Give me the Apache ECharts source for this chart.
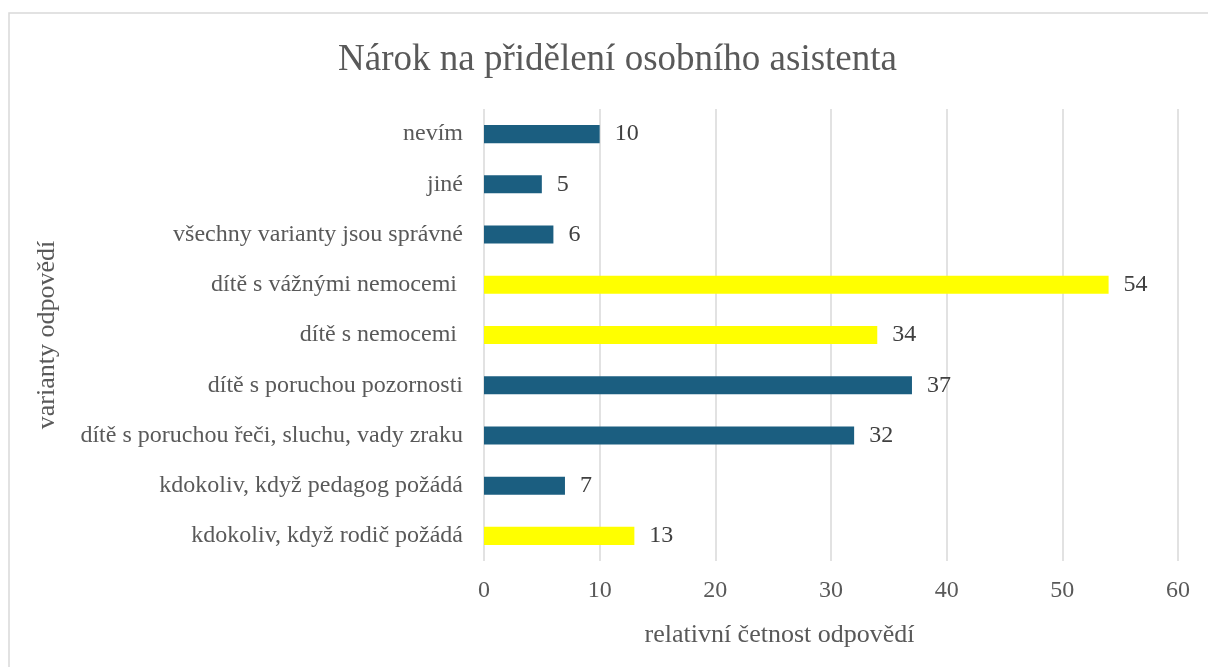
<!DOCTYPE html>
<html>
<head>
<meta charset="utf-8">
<script src="https://cdn.jsdelivr.net/npm/echarts@6/dist/echarts.min.js"></script>
<style>
html,body{margin:0;padding:0;background:#fff;overflow:hidden;}
#c{width:1208px;height:667px;}
</style>
</head>
<body>
<div id="c"></div>
<script>
const categories = [
  'kdokoliv, když rodič požádá',
  'kdokoliv, když pedagog požádá',
  'dítě s poruchou řeči, sluchu, vady zraku',
  'dítě s poruchou pozornosti',
  'dítě s nemocemi ',
  'dítě s vážnými nemocemi ',
  'všechny varianty jsou správné',
  'jiné',
  'nevím'
];
const values = [13, 7, 32, 37, 34, 54, 6, 5, 10];
const highlighted = [true, false, false, false, true, true, false, false, false];
const xTicks = [0, 10, 20, 30, 40, 50, 60];

const BLUE = '#1b5e80';
const YELLOW = '#ffff00';
const FONT = '"Liberation Serif", "Times New Roman", serif';

const chart = echarts.init(document.getElementById('c'));
chart.setOption({
  animation: false,
  backgroundColor: '#fff',
  title: {
    text: 'Nárok na přidělení osobního asistenta',
    left: 333,
    top: 37,
    textStyle: {fontFamily: FONT, fontSize: 37, fontWeight: 'normal', color: '#595959'}
  },
  graphic: [{
    type: 'rect',
    shape: {x: 9, y: 13, width: 1300, height: 700},
    style: {fill: 'none', stroke: '#d9d9d9', lineWidth: 1.5},
    silent: true, z: -1
  }],
  grid: {left: 484, right: 30, top: 109, bottom: 106},
  xAxis: {
    type: 'value',
    min: xTicks[0], max: xTicks[xTicks.length - 1], interval: 10,
    name: 'relativní četnost odpovědí',
    nameLocation: 'middle',
    nameGap: 61,
    nameTextStyle: {fontFamily: FONT, fontSize: 26, color: '#595959', padding: [0, 103, 0, 0]},
    axisLine: {show: false},
    axisTick: {show: false},
    axisLabel: {fontFamily: FONT, fontSize: 24, color: '#595959', margin: 18},
    splitLine: {show: true, lineStyle: {color: '#d9d9d9', width: 1.5}}
  },
  yAxis: {
    type: 'category',
    data: categories,
    name: 'varianty odpovědí',
    nameLocation: 'middle',
    nameGap: 424,
    nameTextStyle: {fontFamily: FONT, fontSize: 26, color: '#595959'},
    axisLine: {show: false},
    axisTick: {show: false},
    axisLabel: {fontFamily: FONT, fontSize: 24, color: '#595959', margin: 21}
  },
  series: [{
    type: 'bar',
    barWidth: '36%',
    data: values.map((v, i) => ({value: v, itemStyle: {color: highlighted[i] ? YELLOW : BLUE}})),
    label: {
      show: true, position: 'right', distance: 15,
      fontFamily: FONT, fontSize: 24, color: '#404040'
    }
  }]
});
</script>
</body>
</html>
